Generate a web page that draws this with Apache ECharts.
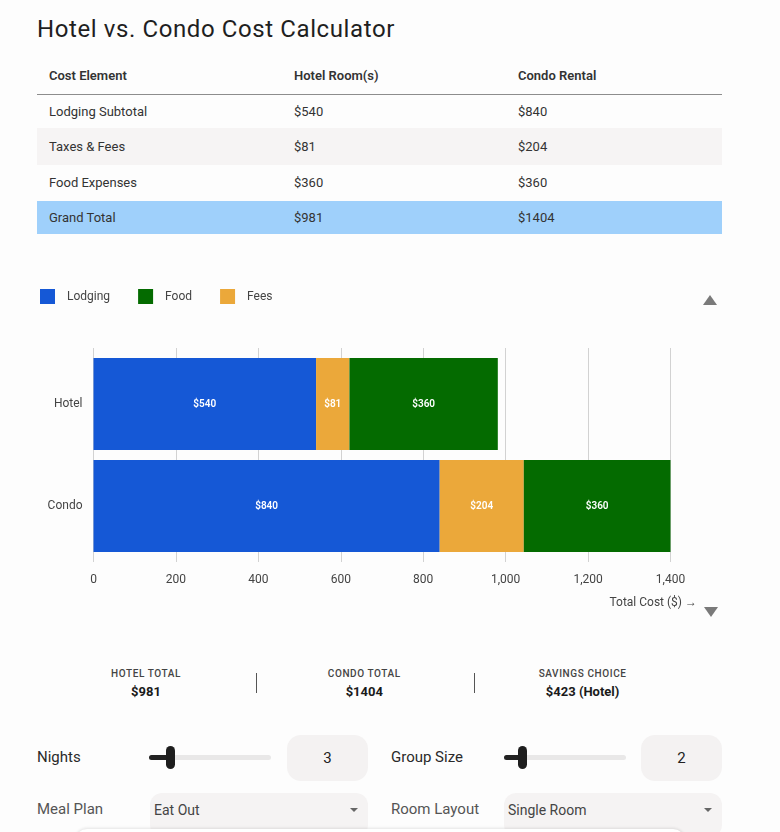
<!DOCTYPE html>
<html>
<head>
<meta charset="utf-8">
<title>Hotel vs. Condo Cost Calculator</title>
<script src="https://cdn.jsdelivr.net/npm/echarts@6/dist/echarts.min.js"></script>
<style>
  html, body { margin: 0; padding: 0; }
  body { width: 780px; height: 832px; overflow: hidden; background: #fdfdfd; font-family: Roboto, "Noto Sans", sans-serif; color: #2a2a2a; position: relative; }
  .abs { position: absolute; }
  #title { left: 37px; top: 14px; font-size: 24px; line-height: 30px; color: #1f1f1f; letter-spacing: 0.6px; }
  #costTable { left: 37px; top: 57px; width: 685px; }
  .row { display: flex; font-size: 13px; color: #333; box-sizing: border-box; }
  .row div { padding-left: 12px; box-sizing: border-box; padding-bottom: 3px; }
  .c1 { width: 245px; } .c2 { width: 224px; } .c3 { width: 216px; }
  .head { height: 38px; line-height: 38px; font-weight: 600; border-bottom: 1.5px solid #8d8d8d; }
  .stripe { background: #f6f4f4; }
  .total { background: #9fd0fb; }
  #chart { left: 0; top: 270px; width: 780px; height: 350px; }
  .tri-up { width: 0; height: 0; border-left: 7.5px solid transparent; border-right: 7.5px solid transparent; border-bottom: 10px solid #7a7a7a; }
  .tri-down { width: 0; height: 0; border-left: 7.5px solid transparent; border-right: 7.5px solid transparent; border-top: 10px solid #7a7a7a; }
  .sum { top: 665.5px; width: 218px; text-align: center; }
  .sum .lab { font-size: 10px; letter-spacing: 0.6px; color: #444; font-weight: 500; line-height: 16px; }
  .sum .val { font-size: 13px; font-weight: 700; color: #1a1a1a; line-height: 20px; }
  .divider { top: 673px; width: 1px; height: 20px; background: #555; }
  .label { font-size: 15px; line-height: 20px; color: #2a2a2a; }
  .track { height: 5px; border-radius: 3px; background: #e9e8e8; }
  .fill { height: 5px; border-radius: 3px; background: #222; }
  .thumb { width: 9px; height: 23px; border-radius: 5px; background: #1e1e1e; }
  .numbox { width: 81px; height: 46px; border-radius: 14px; background: #f4f2f2; text-align: center; line-height: 46px; font-size: 15px; color: #222; }
  .select { height: 44px; border-radius: 12px; background: #f5f3f3; font-size: 14px; color: #444; box-sizing: border-box; padding-left: 4px; padding-top: 7px; line-height: 20px; }
  .arrow { position: absolute; right: 10px; top: 15px; width: 0; height: 0; border-left: 4px solid transparent; border-right: 4px solid transparent; border-top: 4px solid #666; }
  #card { left: 75px; top: 829px; width: 610px; height: 20px; background: #fff; border-radius: 12px 12px 0 0; box-shadow: 0 -1px 3px rgba(0,0,0,0.10); }
</style>
</head>
<body>
<div id="title" class="abs">Hotel vs. Condo Cost Calculator</div>
<div id="costTable" class="abs"></div>
<div id="chart" class="abs"></div>
<div class="abs tri-up" style="left:703px;top:295px"></div>
<div class="abs tri-down" style="left:704px;top:607px"></div>
<div id="summary"></div>
<div id="controls"></div>
<div id="card" class="abs"></div>
<script>
// chart data
var categories = ['Hotel', 'Condo'];
var lodging = [540, 840];
var fees = [81, 204];
var food = [360, 360];
var legendOrder = ['Lodging', 'Food', 'Fees'];
var axisMin = 0, axisMax = 1400, axisStep = 200;

// form values
var nights = 3, nightsMax = 14;
var groupSize = 2, groupMax = 9;
var mealPlan = 'Eat Out';
var roomLayout = 'Single Room';

var colors = { lodging: '#1558d6', food: '#046b00', fees: '#eba83a' };

var totals = categories.map(function (c, i) { return lodging[i] + fees[i] + food[i]; });

// table
var rows = [
  ['Lodging Subtotal', '$' + lodging[0], '$' + lodging[1], 33, ''],
  ['Taxes &amp; Fees', '$' + fees[0], '$' + fees[1], 37, 'stripe'],
  ['Food Expenses', '$' + food[0], '$' + food[1], 35.5, ''],
  ['Grand Total', '$' + totals[0], '$' + totals[1], 33.5, 'total']
];
var html = '<div class="row head"><div class="c1">Cost Element</div><div class="c2">Hotel Room(s)</div><div class="c3">Condo Rental</div></div>';
rows.forEach(function (r) {
  html += '<div class="row ' + r[4] + '" style="height:' + r[3] + 'px;line-height:' + r[3] + 'px">' +
    '<div class="c1">' + r[0] + '</div><div class="c2">' + r[1] + '</div><div class="c3">' + r[2] + '</div></div>';
});
document.getElementById('costTable').innerHTML = html;

// summary strip
var diff = Math.abs(totals[1] - totals[0]);
var cheaper = totals[0] <= totals[1] ? 'Hotel' : 'Condo';
var sumItems = [['HOTEL TOTAL', '$' + totals[0]], ['CONDO TOTAL', '$' + totals[1]], ['SAVINGS CHOICE', '$' + diff + ' (' + cheaper + ')']];
var sh = '';
sumItems.forEach(function (s, i) {
  sh += '<div class="abs sum" style="left:' + (37 + i * 218.3) + 'px"><div class="lab">' + s[0] + '</div><div class="val">' + s[1] + '</div></div>';
});
sh += '<div class="abs divider" style="left:256px"></div><div class="abs divider" style="left:474px"></div>';
document.getElementById('summary').innerHTML = sh;

// controls
function slider(x, value, max) {
  var w = 122;
  var left = x + (value - 1) / (max - 1) * (w - 9);
  return '<div class="abs track" style="left:' + x + 'px;top:754.5px;width:' + w + 'px"></div>' +
    '<div class="abs fill" style="left:' + x + 'px;top:754.5px;width:' + (left - x + 5) + 'px"></div>' +
    '<div class="abs thumb" style="left:' + left + 'px;top:746px"></div>';
}
var ch = '';
ch += '<div class="abs label" style="left:37px;top:747px">Nights</div>' + slider(149, nights, nightsMax) +
  '<div class="abs numbox" style="left:287px;top:735px">' + nights + '</div>';
ch += '<div class="abs label" style="left:391px;top:747px">Group Size</div>' + slider(504, groupSize, groupMax) +
  '<div class="abs numbox" style="left:641px;top:735px">' + groupSize + '</div>';
ch += '<div class="abs label" style="left:37px;top:799px;color:#555">Meal Plan</div>' +
  '<div class="abs select" style="left:150px;top:793px;width:218px">' + mealPlan + '<div class="arrow"></div></div>';
ch += '<div class="abs label" style="left:391px;top:799px;color:#555">Room Layout</div>' +
  '<div class="abs select" style="left:504px;top:793px;width:218px">' + roomLayout + '<div class="arrow"></div></div>';
document.getElementById('controls').innerHTML = ch;

// chart
var myChart = echarts.init(document.getElementById('chart'));
var font = 'Roboto, "Noto Sans", sans-serif';
var barLabel = {
  show: true, position: 'inside', color: '#fff', fontSize: 10, fontWeight: 600, fontFamily: font,
  formatter: function (p) { return '$' + p.value; }
};
option = {
  animation: false,
  textStyle: { fontFamily: font },
  color: [colors.lodging, colors.food, colors.fees],
  legend: {
    data: legendOrder, left: 40, top: 19, padding: 0, icon: 'rect', itemWidth: 15, itemHeight: 15, itemGap: 28,
    textStyle: { fontSize: 12, color: '#444', padding: [0, 0, 0, 7] }
  },
  grid: [
    { left: 93.5, right: 109.5, top: 78, height: 214 },
    { left: 93.5, right: 109.5, top: 83, height: 204 }
  ],
  xAxis: [
    {
      gridIndex: 0, type: 'value', min: axisMin, max: axisMax, interval: axisStep,
      axisLine: { show: false }, axisTick: { show: false },
      axisLabel: { color: '#444', fontSize: 12, margin: 12, formatter: function (v) { return v.toLocaleString('en-US'); } },
      splitLine: { lineStyle: { color: '#d2d2d2' } }
    },
    { gridIndex: 1, type: 'value', min: axisMin, max: axisMax, interval: axisStep, show: false }
  ],
  yAxis: [
    { gridIndex: 0, type: 'category', data: categories, show: false },
    {
      gridIndex: 1, type: 'category', data: categories, inverse: true,
      axisLine: { show: false }, axisTick: { show: false },
      axisLabel: { color: '#444', fontSize: 12, margin: 11 }
    }
  ],
  graphic: [
    { type: 'text', right: 83, top: 327, style: { text: 'Total Cost ($) \u2192', fontSize: 12, fill: '#444', fontFamily: font } }
  ],
  series: [
    { name: 'Lodging', type: 'bar', stack: 'cost', xAxisIndex: 1, yAxisIndex: 1, data: lodging, barCategoryGap: '10%', label: barLabel, itemStyle: { color: colors.lodging } },
    { name: 'Fees', type: 'bar', stack: 'cost', xAxisIndex: 1, yAxisIndex: 1, data: fees, barCategoryGap: '10%', label: barLabel, itemStyle: { color: colors.fees } },
    { name: 'Food', type: 'bar', stack: 'cost', xAxisIndex: 1, yAxisIndex: 1, data: food, barCategoryGap: '10%', label: barLabel, itemStyle: { color: colors.food } }
  ]
};
myChart.setOption(option);
</script>
</body>
</html>
